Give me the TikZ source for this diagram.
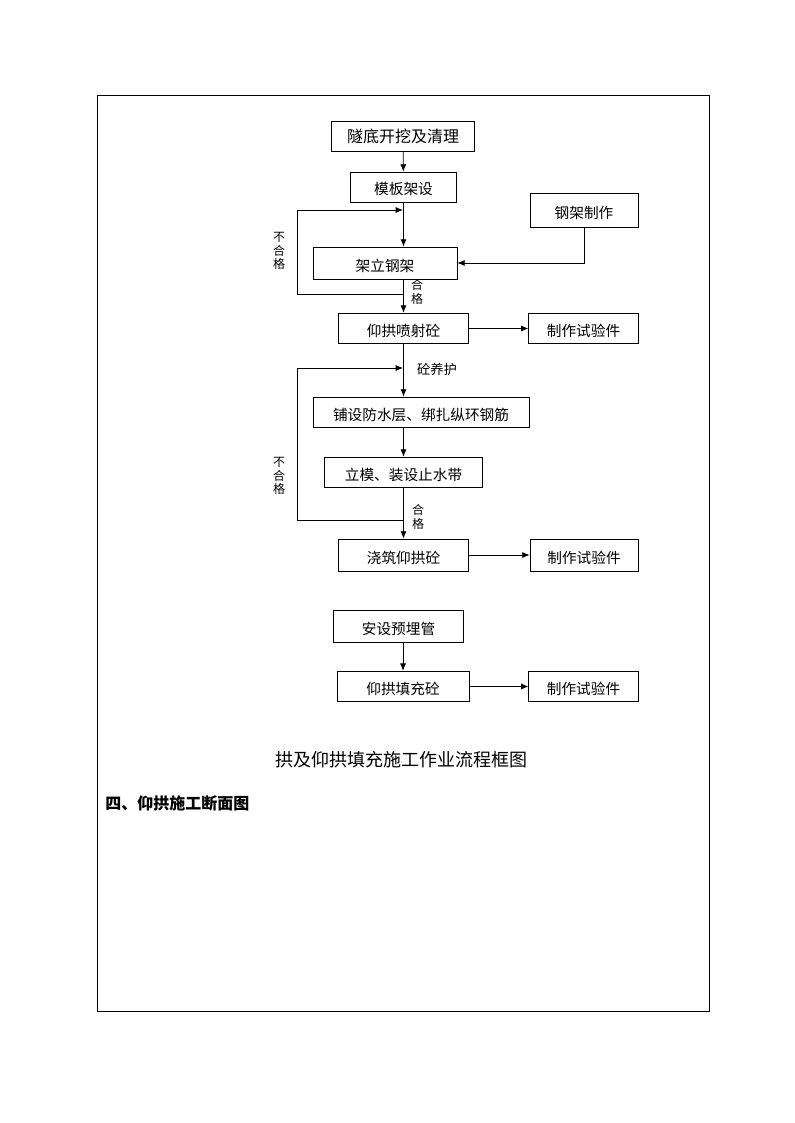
\documentclass[tikz,border=0pt]{standalone}
\usepackage{fontspec}
\newfontfamily\cjk{Noto Sans CJK SC}
\usetikzlibrary{arrows.meta}

\tikzset{
  stepbox/.style={draw, rectangle, inner sep=0pt, text height=12pt, text depth=0pt,
                  font=\cjk\fontsize{11}{13}\selectfont},
  flow/.style={-{Latex[length=5.5pt,width=4.5pt]}},
  note/.style={font=\cjk\fontsize{9}{10}\selectfont, align=center, inner sep=0pt}
}

\begin{document}
\begin{tikzpicture}[x=0.75pt, y=-0.75pt, line width=0.6pt]
\useasboundingbox (0,0) rectangle (794,1123);
\draw (97,95) rectangle (709,1011);

% main column
\node [stepbox, minimum width=107, minimum height=23, font=\cjk\fontsize{12}{14}\selectfont,
       text height=9pt] (dig)    at (403,136.5) {隧底开挖及清理};
\node [stepbox, minimum width=80, minimum height=22.5] (form)   at (403.5,187)  {模板架设};
\node [stepbox, minimum width=81, minimum height=25]   (frmake) at (584,210.5)  {钢架制作};
\node [stepbox, minimum width=108, minimum height=24]  (frset)  at (385,263)    {架立钢架};
\node [stepbox, minimum width=98, minimum height=23]   (spray)  at (403.5,328.5) {仰拱喷射砼};
\node [stepbox, minimum width=82, minimum height=23]   (test1)  at (583.5,328.5) {制作试验件};
\node [stepbox, minimum width=162, minimum height=22.5] (water) at (421,412)    {铺设防水层、绑扎纵环钢筋};
\node [stepbox, minimum width=118, minimum height=23]  (mould)  at (403.5,472.5) {立模、装设止水带};
\node [stepbox, minimum width=98, minimum height=24]   (pour)   at (403.5,555)  {浇筑仰拱砼};
\node [stepbox, minimum width=81, minimum height=24]   (test2)  at (584,555)    {制作试验件};
\node [stepbox, minimum width=98, minimum height=24]   (pipe)   at (398.5,626)  {安设预埋管};
\node [stepbox, minimum width=99, minimum height=23]   (fill)   at (403,686.5)  {仰拱填充砼};
\node [stepbox, minimum width=82, minimum height=23]   (test3)  at (583.5,686.5) {制作试验件};

% loop points
\coordinate (back1) at (403,294);
\coordinate (in1)   at (403,210);
\coordinate (back2) at (403,520);
\coordinate (in2)   at (403,368);

\draw [flow] (dig)  -- (form);
\draw [flow] (form.south) -- (form.south |- frset.north);
\draw [flow] (frset.south -| spray.north) -- (spray.north);
\draw [flow] (frmake.south) |- (frset.east);
\draw [flow] (back1) -- ++(-106,0) |- (in1);
\draw [flow] (spray.east) -- (test1.west);
\draw [flow] (spray.south) -- (spray.south |- water.north);
\draw [flow] (water.south -| mould.north) -- (mould.north);
\draw [flow] (back2) -- ++(-106,0) |- (in2);
\draw [flow] (mould.south) -- (pour.north);
\draw [flow] (pour.east) -- (test2.west);
\draw [flow] (fill.north |- pipe.south) -- (fill.north);
\draw [flow] (fill.east) -- (test3.west);

% labels
\node [note] (fail1) at (279,251) {不\\合\\格};
\node [note] (pass1) at (417,292) {合\\格};
\node [note, font=\cjk\fontsize{10}{12}\selectfont] (cure) at (437,369) {砼养护};
\node [note] (fail2) at (279,476) {不\\合\\格};
\node [note] (pass2) at (418,517) {合\\格};

\node [font=\cjk\fontsize{13.5}{16}\selectfont, inner sep=0pt] (title) at (401,760)
      {拱及仰拱填充施工作业流程框图};
\node [font=\cjk\bfseries\fontsize{12}{14}\selectfont, anchor=west, inner sep=0pt] (sec)
      at (105,803) {四、仰拱施工断面图};
\end{tikzpicture}
\end{document}
